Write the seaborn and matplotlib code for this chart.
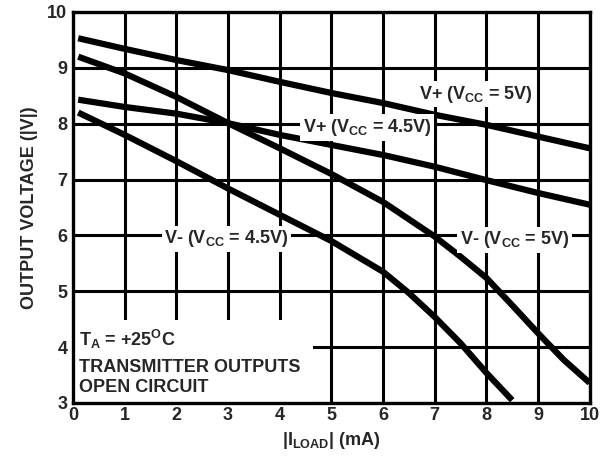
import pandas as pd
import seaborn as sns
import matplotlib
matplotlib.use('Agg')
import matplotlib.pyplot as plt
from matplotlib.patches import Rectangle

# curve data
x_vp5 = [0.1, 1, 2, 3, 4, 5, 6, 7, 8, 9, 10]
y_vp5 = [9.53, 9.34, 9.14, 8.96, 8.75, 8.55, 8.37, 8.16, 7.98, 7.77, 7.56]

x_vp45 = [0.1, 1, 2, 3, 4, 5, 6, 7, 8, 9, 10]
y_vp45 = [8.43, 8.3, 8.18, 8.01, 7.8, 7.62, 7.44, 7.23, 6.99, 6.76, 6.55]

x_vm5 = [0.1, 1, 2, 3, 4, 5, 6, 7, 7.5, 8, 8.5, 9, 9.5, 10]
y_vm5 = [9.2, 8.9, 8.48, 8.01, 7.56, 7.1, 6.6, 5.98, 5.62, 5.24, 4.75, 4.25, 3.77, 3.36]

x_vm45 = [0.1, 1, 2, 3, 4, 5, 6, 6.5, 7, 7.5, 8, 8.5]
y_vm45 = [8.2, 7.8, 7.33, 6.84, 6.37, 5.9, 5.35, 4.97, 4.54, 4.07, 3.54, 3.05]

xticks = list(range(0, 11))
yticks = list(range(3, 11))

sns.set_theme(style='white')
plt.rcParams['font.family'] = ['Liberation Sans', 'DejaVu Sans']
plt.rcParams['font.weight'] = 'bold'
plt.rcParams['mathtext.fontset'] = 'custom'
plt.rcParams['mathtext.rm'] = 'Liberation Sans:bold'
plt.rcParams['mathtext.it'] = 'Liberation Sans:bold'
plt.rcParams['mathtext.bf'] = 'Liberation Sans:bold'

fs = 13
fig = plt.figure(figsize=(6.1, 4.63), dpi=100)
ax = fig.add_axes([0.1197, 0.1296, 0.847, 0.8445])

curves = [(x_vp5, y_vp5), (x_vp45, y_vp45), (x_vm5, y_vm5), (x_vm45, y_vm45)]
for xs, ys in curves:
    df = pd.DataFrame({'x': xs, 'y': ys})
    sns.lineplot(data=df, x='x', y='y', ax=ax, color='black', linewidth=4.5,
                 solid_capstyle='butt', solid_joinstyle='round', zorder=3)

ax.set_xlim(0, 10)
ax.set_ylim(3, 10)
ax.set_xticks(xticks)
ax.set_yticks(yticks)
ax.grid(True, color='black', linewidth=2.2, zorder=1)
ax.set_axisbelow(True)
ax.tick_params(axis='x', length=0, labelsize=fs, pad=3)
ax.tick_params(axis='y', length=0, labelsize=fs, pad=4)
for lab in ax.get_xticklabels() + ax.get_yticklabels():
    lab.set_fontweight('bold')
for sp in ax.spines.values():
    sp.set_linewidth(2.4)
    sp.set_color('black')
    sp.set_zorder(6)

ax.set_xlabel('|I$_{LOAD}$| (mA)', fontsize=fs, fontweight='bold', labelpad=4)
ax.set_ylabel('OUTPUT VOLTAGE (|V|)', fontsize=fs, fontweight='bold', labelpad=7)

box = dict(facecolor='white', edgecolor='none', pad=2)
ax.text(7.8, 8.53, 'V+ (V$_{CC}$ = 5V)', ha='center', va='center', fontsize=fs,
        fontweight='bold', bbox=box, zorder=5)
ax.text(5.69, 7.93, 'V+ (V$_{CC}$ = 4.5V)', ha='center', va='center', fontsize=fs,
        fontweight='bold', bbox=box, zorder=5)
ax.text(2.97, 5.94, 'V- (V$_{CC}$ = 4.5V)', ha='center', va='center', fontsize=fs,
        fontweight='bold', bbox=box, zorder=5)
ax.text(8.55, 5.92, 'V- (V$_{CC}$ = 5V)', ha='center', va='center', fontsize=fs,
        fontweight='bold', bbox=box, zorder=5)

# condition box in lower left
ax.add_patch(Rectangle((0, 3), 4.64, 1.48, facecolor='white', edgecolor='none', zorder=4))
ax.text(0.12, 4.14, 'T$_A$ = +25$^{O}$C', ha='left', va='center', fontsize=fs,
        fontweight='bold', zorder=5)
ax.text(0.12, 3.64, 'TRANSMITTER OUTPUTS', ha='left', va='center', fontsize=fs,
        fontweight='bold', zorder=5)
ax.text(0.12, 3.27, 'OPEN CIRCUIT', ha='left', va='center', fontsize=fs,
        fontweight='bold', zorder=5)

fig.savefig('out.png', dpi=100)
